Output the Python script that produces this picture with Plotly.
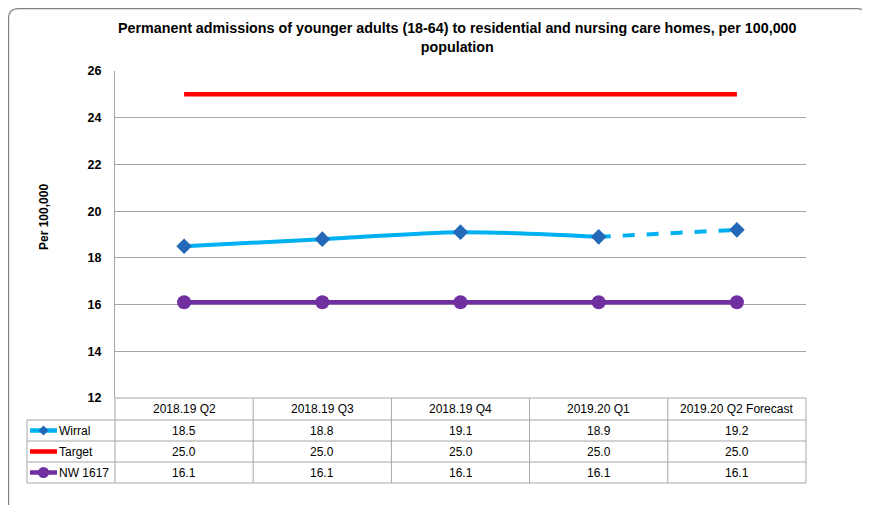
import plotly.graph_objects as go

categories = ['2018.19 Q2', '2018.19 Q3', '2018.19 Q4', '2019.20 Q1', '2019.20 Q2 Forecast']
wirral = [18.5, 18.8, 19.1, 18.9, 19.2]
target = [25.0, 25.0, 25.0, 25.0, 25.0]
nw_1617 = [16.1, 16.1, 16.1, 16.1, 16.1]
series_names = ['Wirral', 'Target', 'NW 1617']
y_ticks = [12, 14, 16, 18, 20, 22, 24, 26]

# page body has an 8px margin, so the figure is a bit smaller than the window
OFF = 8
W, H = 870 - OFF, 505 - OFF
L, R, T, B = 115, 806, 71, 398   # plot area in screen pixels

def px(x):
    return (x - L) / (R - L)

def py(y):
    return (B - y) / (B - T)

FONT = 'Liberation Sans'
GRID = '#A6A6A6'
BLUE = '#00B0F0'
RED = '#FF0000'
PURPLE = '#7030A0'
DIAMOND = '#2369B8'

xi = list(range(len(categories)))

fig = go.Figure()
fig.add_trace(go.Scatter(x=xi, y=target, mode='lines', line=dict(color=RED, width=4.5),
                         showlegend=False, hoverinfo='skip'))
fig.add_trace(go.Scatter(x=xi, y=nw_1617, mode='lines+markers', line=dict(color=PURPLE, width=4.5),
                         marker=dict(size=14, color=PURPLE), showlegend=False))
fig.add_trace(go.Scatter(x=xi[3:], y=wirral[3:], mode='lines', line=dict(color=BLUE, width=4, dash='dash', shape='spline'),
                         showlegend=False))
fig.add_trace(go.Scatter(x=xi[:4], y=wirral[:4], mode='lines', line=dict(color=BLUE, width=4, shape='spline', smoothing=0.8),
                         showlegend=False))
fig.add_trace(go.Scatter(x=xi, y=wirral, mode='markers',
                         marker=dict(symbol='diamond', size=12, color=DIAMOND, line=dict(width=0)),
                         showlegend=False))

shapes = []
ann = []

# outer rounded border (bottom edge runs off the page)
x0, x1, y0, y1, r = 8.6, 867, 8.6, 520, 10
path = (f'M {px(x0+r)},{py(y0)} L {px(x1-r)},{py(y0)} Q {px(x1)},{py(y0)} {px(x1)},{py(y0+r)} '
        f'L {px(x1)},{py(y1)} L {px(x0)},{py(y1)} L {px(x0)},{py(y0+r)} Q {px(x0)},{py(y0)} {px(x0+r)},{py(y0)} Z')
shapes.append(dict(type='path', xref='paper', yref='paper', path=path, line=dict(color='#808080', width=1.2)))

# data table grid
row_y = [398, 420, 441, 462, 483]
col_x = [L + (R - L) * k / 5 for k in range(6)]
for k, yy in enumerate(row_y):
    xs = L if k == 0 else 27
    shapes.append(dict(type='line', xref='paper', yref='paper', x0=px(xs), x1=px(R), y0=py(yy), y1=py(yy),
                       line=dict(color=GRID, width=1)))
for xx in col_x:
    shapes.append(dict(type='line', xref='paper', yref='paper', x0=px(xx), x1=px(xx), y0=py(398), y1=py(483),
                       line=dict(color=GRID, width=1)))
shapes.append(dict(type='line', xref='paper', yref='paper', x0=px(27), x1=px(27), y0=py(420), y1=py(483),
                   line=dict(color=GRID, width=1)))

cell_font = dict(size=12, color='#000000', family=FONT)
for i, c in enumerate(categories):
    ann.append(dict(x=i, xref='x', y=py(409), yref='paper', text=c, showarrow=False,
                    xanchor='center', yanchor='middle', font=cell_font))
row_centers = [430.5, 451.5, 472.5]
for rowv, yc in zip([wirral, target, nw_1617], row_centers):
    for i, v in enumerate(rowv):
        ann.append(dict(x=i, xref='x', y=py(yc), yref='paper', text=f'{v:.1f}', showarrow=False,
                        xanchor='center', yanchor='middle', font=cell_font))

# legend keys in table
for name, col, yc in zip(series_names, [BLUE, RED, PURPLE], row_centers):
    shapes.append(dict(type='line', xref='paper', yref='paper', x0=px(30), x1=px(57), y0=py(yc), y1=py(yc),
                       line=dict(color=col, width=4.5)))
    ann.append(dict(x=px(57), xref='paper', y=py(yc), yref='paper', text=name, showarrow=False,
                    xanchor='left', yanchor='middle', font=cell_font))
d = 5
cx, cy = 43.5, row_centers[0]
shapes.append(dict(type='path', xref='paper', yref='paper',
                   path=f'M {px(cx)},{py(cy-d)} L {px(cx+d)},{py(cy)} L {px(cx)},{py(cy+d)} L {px(cx-d)},{py(cy)} Z',
                   fillcolor=DIAMOND, line=dict(width=0)))
cy = row_centers[2]
shapes.append(dict(type='circle', xref='paper', yref='paper', x0=px(cx-5.5), x1=px(cx+5.5), y0=py(cy-5.5), y1=py(cy+5.5),
                   fillcolor=PURPLE, line=dict(width=0)))

# y axis title
ann.append(dict(x=px(44), xref='paper', y=py(217), yref='paper', text='<b>Per 100,000</b>', showarrow=False,
                textangle=-90, xanchor='center', yanchor='middle',
                font=dict(size=12, color='#000000', family=FONT)))

# title
ann.append(dict(x=px(457), xref='paper', y=py(37), yref='paper', showarrow=False,
                text='<b>Permanent admissions of younger adults (18-64) to residential and nursing care homes, per 100,000<br>population</b>',
                xanchor='center', yanchor='middle', align='center',
                font=dict(size=14.3, color='#000000', family=FONT)))

fig.update_layout(
    width=W, height=H,
    margin=dict(l=L - OFF, r=W - (R - OFF), t=T - OFF, b=H - (B - OFF)),
    paper_bgcolor='white', plot_bgcolor='white',
    font=dict(family=FONT, color='#000000'),
    xaxis=dict(range=[-0.5, 4.5], showticklabels=False, showgrid=False, zeroline=False, fixedrange=True),
    yaxis=dict(range=[12, 26], tickvals=y_ticks, showgrid=True, gridcolor=GRID, gridwidth=1,
               zeroline=False, showline=True, linecolor=GRID, ticks='', ticklen=0, ticklabelstandoff=10,
               tickfont=dict(size=12.5, family=FONT, color='#000000', weight='bold')),
    shapes=shapes, annotations=ann,
)

fig.write_html('out.html')
